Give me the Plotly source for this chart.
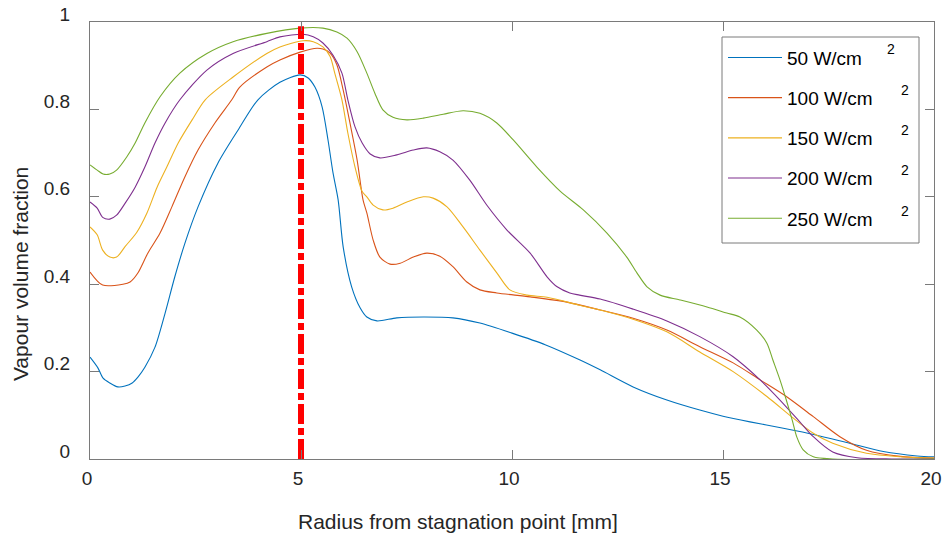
import plotly.graph_objects as go

# Radial position [mm] and vapour volume fraction for each heat flux
x_50 = [0, 0.19, 0.31, 0.47, 0.66, 0.83, 1.0, 1.14, 1.3, 1.54, 1.78, 2.01, 2.25, 2.56, 3.03, 3.51, 3.98,
        4.5, 4.98, 5.17, 5.33, 5.5, 5.64, 5.76, 5.88, 6.0, 6.2, 6.4, 6.56, 6.8, 7.27, 7.9, 8.6, 9.24,
        10.0, 10.8, 11.6, 12.09, 12.87, 13.67, 14.45, 15.0, 15.64, 16.4, 17.2, 18.0, 18.8, 19.6, 20]
y_50 = [0.233, 0.208, 0.185, 0.174, 0.165, 0.167, 0.174, 0.188, 0.21, 0.256, 0.334, 0.417, 0.494, 0.577,
        0.677, 0.753, 0.822, 0.862, 0.879, 0.872, 0.851, 0.806, 0.73, 0.654, 0.593, 0.485, 0.394, 0.346,
        0.325, 0.316, 0.323, 0.325, 0.323, 0.311, 0.288, 0.261, 0.227, 0.204, 0.165, 0.135, 0.112, 0.098,
        0.085, 0.071, 0.055, 0.036, 0.017, 0.007, 0.005]

x_100 = [0, 0.3, 0.78, 0.95, 1.13, 1.37, 1.66, 1.94, 2.25, 2.56, 2.96, 3.36, 3.55, 4.19, 4.5, 4.98, 5.38,
         5.52, 5.69, 5.85, 6.0, 6.16, 6.33, 6.47, 6.56, 6.71, 6.87, 7.11, 7.35, 7.66, 7.98, 8.29, 8.6,
         8.93, 9.24, 9.64, 10.43, 11.3, 12.09, 12.87, 13.67, 14.45, 15.24, 15.88, 16.5, 17.14, 17.77,
         18.4, 19.2, 20]
y_100 = [0.428, 0.398, 0.4, 0.405, 0.425, 0.471, 0.517, 0.577, 0.646, 0.707, 0.769, 0.822, 0.851, 0.897,
         0.913, 0.931, 0.94, 0.938, 0.929, 0.902, 0.844, 0.769, 0.684, 0.593, 0.563, 0.501, 0.462, 0.446,
         0.448, 0.462, 0.471, 0.464, 0.44, 0.405, 0.387, 0.38, 0.371, 0.359, 0.341, 0.322, 0.295, 0.257,
         0.22, 0.181, 0.143, 0.097, 0.051, 0.02, 0.006, 0.002]

x_150 = [0, 0.17, 0.3, 0.47, 0.63, 0.83, 1.11, 1.35, 1.59, 1.82, 2.09, 2.42, 2.73, 3.39, 4.19, 4.5, 5.05,
         5.29, 5.52, 5.69, 5.8, 5.97, 6.11, 6.28, 6.45, 6.56, 6.71, 6.94, 7.18, 7.51, 7.9, 8.13, 8.46,
         8.84, 9.24, 9.64, 9.95, 10.36, 10.83, 11.6, 12.09, 12.87, 13.67, 14.45, 15.24, 16.04, 16.66,
         17.14, 17.6, 18.4, 19.2, 20]
y_150 = [0.531, 0.513, 0.478, 0.462, 0.462, 0.486, 0.519, 0.563, 0.622, 0.668, 0.723, 0.776, 0.822, 0.874,
         0.928, 0.943, 0.957, 0.955, 0.943, 0.921, 0.883, 0.822, 0.746, 0.668, 0.612, 0.6, 0.581, 0.57,
         0.574, 0.588, 0.6, 0.597, 0.577, 0.531, 0.478, 0.426, 0.387, 0.375, 0.37, 0.352, 0.341, 0.32,
         0.291, 0.245, 0.2, 0.143, 0.094, 0.059, 0.036, 0.013, 0.005, 0.002]

x_200 = [0, 0.17, 0.3, 0.47, 0.63, 0.83, 1.07, 1.3, 1.54, 1.78, 2.13, 2.77, 3.39, 4.19, 4.5, 5.05, 5.29,
         5.52, 5.76, 5.97, 6.11, 6.28, 6.45, 6.64, 6.87, 7.27, 7.66, 7.98, 8.29, 8.6, 9.0, 9.41, 9.88,
         10.43, 10.83, 11.07, 11.37, 11.6, 12.09, 12.87, 13.67, 14.45, 15.24, 15.88, 16.35, 16.82, 17.14,
         17.6, 18.18, 19, 20]
y_200 = [0.588, 0.574, 0.553, 0.549, 0.558, 0.585, 0.622, 0.668, 0.723, 0.769, 0.822, 0.89, 0.928, 0.955,
         0.966, 0.972, 0.966, 0.952, 0.924, 0.883, 0.822, 0.76, 0.723, 0.698, 0.689, 0.696, 0.707, 0.712,
         0.703, 0.684, 0.638, 0.58, 0.524, 0.471, 0.417, 0.394, 0.38, 0.375, 0.366, 0.343, 0.316, 0.28,
         0.234, 0.181, 0.135, 0.085, 0.051, 0.016, 0.003, 0.0, 0.0]

x_250 = [0, 0.17, 0.31, 0.47, 0.63, 0.87, 1.07, 1.3, 1.66, 2.13, 2.77, 3.39, 4.19, 4.98, 5.52, 5.85, 6.09,
         6.33, 6.56, 6.75, 6.94, 7.18, 7.51, 7.9, 8.37, 8.84, 9.24, 9.64, 10.03, 10.59, 11.14, 11.69,
         12.25, 12.72, 12.96, 13.2, 13.51, 13.98, 14.62, 15.09, 15.4, 15.8, 16.04, 16.18, 16.35, 16.5,
         16.64, 16.75, 16.9, 17.14, 17.6, 20]
y_250 = [0.673, 0.661, 0.652, 0.652, 0.661, 0.691, 0.723, 0.769, 0.829, 0.883, 0.928, 0.955, 0.974, 0.986,
         0.986, 0.977, 0.963, 0.932, 0.883, 0.837, 0.799, 0.782, 0.776, 0.78, 0.789, 0.797, 0.791, 0.769,
         0.73, 0.668, 0.613, 0.57, 0.517, 0.462, 0.426, 0.394, 0.375, 0.364, 0.348, 0.334, 0.325, 0.295,
         0.265, 0.227, 0.181, 0.135, 0.089, 0.05, 0.021, 0.005, 0.0, 0.0]

series_labels = ["50 W/cm", "100 W/cm", "150 W/cm", "200 W/cm", "250 W/cm"]
series_x = [x_50, x_100, x_150, x_200, x_250]
series_y = [y_50, y_100, y_150, y_200, y_250]
colors = ["#0072BD", "#D95319", "#EDB120", "#7E2F8E", "#77AC30"]

# Stagnation-region marker
marker_x = [5, 5]
marker_y = [0, 0.99]

x_ticks = [0, 5, 10, 15, 20]
y_ticks = [0, 0.2, 0.4, 0.6, 0.8, 1]
y_tick_text = ["0", "0.2", "0.4", "0.6", "0.8", "1"]

FONT = "Arial, Liberation Sans, sans-serif"
TXT = "#262626"
AXC = "#7a7a7a"

# plot-area geometry in pixels, used to place the legend frame and unit exponents
L, R, T, B = 90, 934, 22, 459


def px_to_paper(px, py):
    return (px - L) / (R - L), (B - py) / (B - T)


fig = go.Figure()
for i, (lab, xs, ys, c) in enumerate(zip(series_labels, series_x, series_y, colors)):
    fig.add_trace(go.Scatter(
        x=xs, y=ys, mode="lines", name=lab,
        line=dict(color=c, width=1.1, shape="spline", smoothing=0.8), legendgroup="g%d" % i,
    ))

fig.add_trace(go.Scatter(
    x=marker_x, y=marker_y, mode="lines", showlegend=False,
    line=dict(color="#FF0000", width=6, dash="20px,4px,7px,4px"),
))

axis_common = dict(
    showline=True, linecolor=AXC, linewidth=1, mirror="ticks",
    ticks="inside", ticklen=9, tickcolor=AXC, tickwidth=1,
    showgrid=False, zeroline=False, automargin=False,
    tickfont=dict(family=FONT, size=19, color=TXT),
)

fig.update_xaxes(range=[0, 20], tickvals=x_ticks, ticklabelshift=-3, ticklabelstandoff=2, **axis_common)
fig.update_yaxes(range=[0, 1], tickvals=y_ticks, ticktext=y_tick_text, ticklabelshift=-8,
                 ticklabelstandoff=15, **axis_common)

# legend frame (wider than the entries, leaving room for the exponents)
fx0, fy0 = px_to_paper(722, 243)
fx1, fy1 = px_to_paper(919, 37)
frame = dict(type="rect", xref="paper", yref="paper", x0=fx0, y0=fy0, x1=fx1, y1=fy1,
             fillcolor="white", line=dict(color=AXC, width=1), layer="above")

# squared-unit exponents for the legend entries
exp_pos = [(891, 49), (905, 89.5), (905, 130), (905, 170), (905, 211)]
exp_ann = []
for px, py in exp_pos:
    ax, ay = px_to_paper(px, py)
    exp_ann.append(dict(text="2", xref="paper", yref="paper", x=ax, y=ay,
                        xanchor="center", yanchor="middle", showarrow=False,
                        font=dict(family=FONT, size=14, color="#000000")))

fig.update_layout(
    width=944, height=536,
    margin=dict(l=L, r=944 - R, t=T, b=536 - B, autoexpand=False),
    paper_bgcolor="white", plot_bgcolor="white",
    font=dict(family=FONT, color=TXT),
    shapes=[frame],
    legend=dict(
        x=0.750, y=0.962, xanchor="left", yanchor="top",
        bgcolor="rgba(0,0,0,0)", borderwidth=0,
        font=dict(family=FONT, size=19, color="#000000"),
        tracegroupgap=12.5, itemwidth=54,
    ),
    annotations=[
        dict(text="Radius from stagnation point [mm]", xref="paper", yref="paper",
             x=0.436, y=-0.142, xanchor="center", yanchor="middle", showarrow=False,
             font=dict(family=FONT, size=21, color=TXT)),
        dict(text="Vapour volume fraction", xref="paper", yref="paper",
             x=-0.083, y=0.423, xanchor="center", yanchor="middle", showarrow=False,
             textangle=-90, font=dict(family=FONT, size=21, color=TXT)),
    ] + exp_ann,
)

fig.write_html("out.html")
